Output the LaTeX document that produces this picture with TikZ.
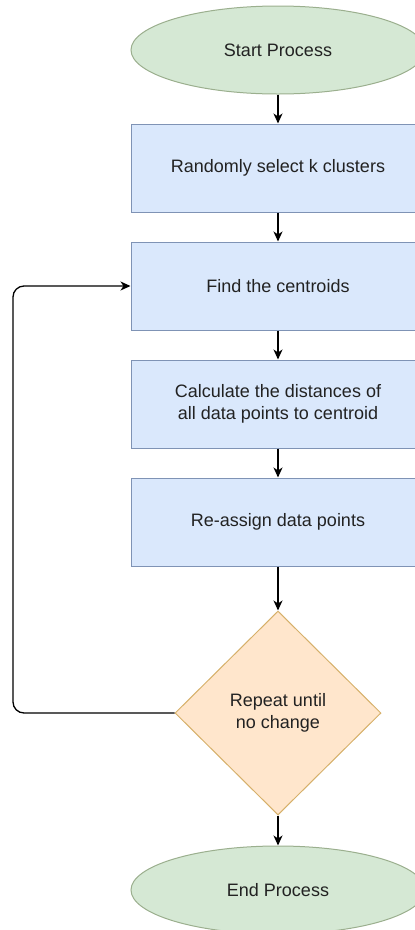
\documentclass[tikz,border=0pt]{standalone}
\usepackage{fontspec}
\setmainfont{Liberation Sans}
\usetikzlibrary{shapes.geometric,arrows.meta}
\definecolor{termfill}{HTML}{D5E8D4}
\definecolor{termline}{HTML}{9BAF8E}
\definecolor{procfill}{HTML}{DAE8FC}
\definecolor{procline}{HTML}{7F93B5}
\definecolor{decfill}{HTML}{FFE6CC}
\definecolor{decline}{HTML}{D6B06A}
\definecolor{txt}{HTML}{222222}
\tikzset{
  base/.style={font=\fontsize{18}{22.5}\selectfont, text=txt, align=center, inner sep=0pt, line width=1pt},
  terminal/.style={base, ellipse, fill=termfill, draw=termline, minimum width=294pt, minimum height=88pt},
  procbox/.style={base, rectangle, fill=procfill, draw=procline, minimum width=294pt, minimum height=88pt},
  decision/.style={base, diamond, fill=decfill, draw=decline, minimum width=206pt, minimum height=204pt},
  flow/.style={line width=1.3pt, black, -{Stealth[length=10pt,width=9pt,inset=3pt]}}
}
\begin{document}
\begin{tikzpicture}[x=1pt,y=-1pt]
\useasboundingbox (0,0) rectangle (415,930);
\clip (0,0) rectangle (415,930);
\node[terminal] (start) at (278,50) {Start Process};
\node[procbox] (sel) at (278,168) {Randomly select k clusters};
\node[procbox] (cent) at (278,286) {Find the centroids};
\node[procbox] (dist) at (278,404) {Calculate the distances of\\all data points to centroid};
\node[procbox] (assign) at (278,522) {Re-assign data points};
\node[decision] (rep) at (278,713) {Repeat until\\no change};
\node[terminal] (end) at (278,890) {End Process};
\coordinate (lb) at (13,713);
\coordinate (lt) at (13,286);
\draw[flow] (start) -- (sel);
\draw[flow] (sel) -- (cent);
\draw[flow] (cent) -- (dist);
\draw[flow] (dist) -- (assign);
\draw[flow] (assign) -- (rep);
\draw[flow] (rep) -- (end);
\draw[flow, rounded corners=11pt] (rep.west) -- (lb) -- (lt) -- (cent.west);
\end{tikzpicture}
\end{document}
